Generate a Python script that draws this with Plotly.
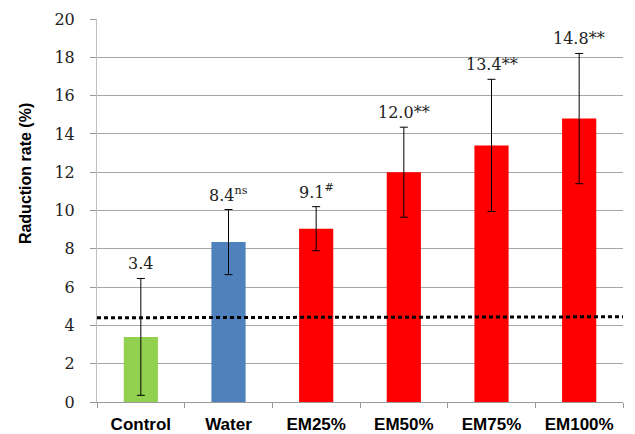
import plotly.graph_objects as go

categories = ["Control", "Water", "EM25%", "EM50%", "EM75%", "EM100%"]
values = [3.4, 8.35, 9.05, 12.0, 13.4, 14.8]
errors = [3.05, 1.7, 1.15, 2.35, 3.45, 3.4]
value_labels = ["3.4", "8.4", "9.1", "12.0", "13.4", "14.8"]
sig_marks = ["", "<sup>ns</sup>", "<sup>#</sup>", "**", "**", "**"]
bar_colors = ["#92d050", "#4f81bd", "#ff0000", "#ff0000", "#ff0000", "#ff0000"]
threshold_line = [4.40, 4.45]
y_ticks = [0, 2, 4, 6, 8, 10, 12, 14, 16, 18, 20]

fig = go.Figure()
fig.add_trace(go.Bar(
    x=categories,
    y=values,
    marker=dict(color=bar_colors, line=dict(width=0)),
    error_y=dict(type="data", array=errors, visible=True,
                 color="#000000", thickness=1, width=4),
    width=0.39,
    showlegend=False,
))

for cat, v, e, lab, s in zip(categories, values, errors, value_labels, sig_marks):
    fig.add_annotation(
        x=cat, y=v + e, text=lab + s, showarrow=False,
        xanchor="center", yanchor="bottom", yshift=3,
        font=dict(family="DejaVu Serif", size=16, color="#222222"),
    )

fig.add_shape(
    type="line", xref="paper", yref="y",
    x0=0, x1=1, y0=threshold_line[0], y1=threshold_line[1],
    line=dict(color="#000000", width=3, dash="4px,3px"),
)

fig.add_annotation(
    xref="paper", yref="paper", x=0, y=0.595, xshift=-72,
    text="<b>Raduction rate (%)</b>", textangle=-90, showarrow=False,
    xanchor="center", yanchor="middle",
    font=dict(family="Liberation Sans", size=16, color="#000000"),
)

# page body adds an 8px offset, so the figure is sized to fit the window
fig.update_layout(
    width=627, height=426,
    margin=dict(l=89, r=12, t=11, b=32, autoexpand=False),
    paper_bgcolor="#ffffff", plot_bgcolor="#ffffff",
    bargap=0.61,
    xaxis=dict(
        type="category",
        tickson="boundaries",
        ticks="outside", ticklen=5, tickcolor="#999999",
        showline=True, linecolor="#999999", linewidth=1,
        showgrid=False,
        ticklabelstandoff=7,
        tickfont=dict(family="Liberation Sans", size=17, color="#000000", weight="bold"),
        range=[-0.5, 5.5],
    ),
    yaxis=dict(
        range=[0, 20],
        tickvals=y_ticks,
        ticks="outside", ticklen=6, tickcolor="#999999",
        showline=True, linecolor="#bfbfbf", linewidth=1,
        showgrid=True, gridcolor="#a6a6a6", gridwidth=1,
        zeroline=False,
        ticklabelstandoff=12,
        tickfont=dict(family="DejaVu Serif", size=16, color="#222222"),
    ),
)

fig.write_html("out.html")
